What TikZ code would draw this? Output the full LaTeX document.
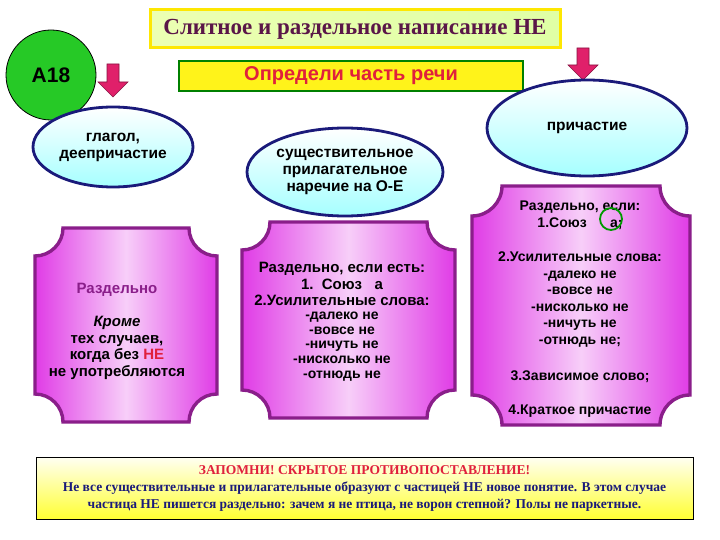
\documentclass[tikz,border=0pt]{standalone}
\usepackage{fontspec}
\setmainfont{Liberation Serif}
\newfontfamily\sansb{Liberation Sans}
\usetikzlibrary{shapes.geometric}
\definecolor{navyb}{HTML}{1A1A7A}
\definecolor{purp}{HTML}{8A1E8A}
\definecolor{pinkc}{HTML}{E03CE6}
\definecolor{arrowc}{HTML}{E0206A}
\definecolor{titletext}{HTML}{5A1648}
\definecolor{redt}{HTML}{E0203C}
\tikzset{
  oval/.style={ellipse,draw=navyb,line width=2.8pt,top color=white,bottom color=cyan!35,font=\sansb\bfseries\fontsize{15.5}{17}\selectfont,align=center,inner sep=0pt},
  cardfill/.style={draw=purp,line width=3.4pt,left color=pinkc,right color=pinkc,middle color=white!75!pinkc},
  ctext/.style={font=\sansb\bfseries\fontsize{15}{16}\selectfont,align=center,inner sep=0pt},
  bar/.style={fill=arrowc,draw=arrowc!60!black,line width=0.6pt}
}
\newcommand{\cardshape}[5]{% x1 y1 x2 y2 r
  \path[cardfill] (#1+#5,#2) -- (#3-#5,#2)
   .. controls (#3-#5,#2+0.55*#5) and (#3-0.55*#5,#2+#5) .. (#3,#2+#5)
   -- (#3,#4-#5)
   .. controls (#3-0.55*#5,#4-#5) and (#3-#5,#4-0.55*#5) .. (#3-#5,#4)
   -- (#1+#5,#4)
   .. controls (#1+#5,#4-0.55*#5) and (#1+0.55*#5,#4-#5) .. (#1,#4-#5)
   -- (#1,#2+#5)
   .. controls (#1+0.55*#5,#2+#5) and (#1+#5,#2+0.55*#5) .. (#1+#5,#2) -- cycle;}
\newcommand{\pinkarrow}[3]{% x ytop ybottom
  \path[bar] (#1-6,#2) -- (#1+6,#2) -- (#1+6,#3-15) -- (#1+15,#3-15) -- (#1,#3) -- (#1-15,#3-15) -- (#1-6,#3-15) -- cycle;}
\begin{document}
\begin{tikzpicture}[x=1pt,y=-1pt]
\useasboundingbox (0,0) rectangle (720,540);
\fill[white] (0,0) rectangle (720,540);
% title
\node[draw=yellow!90!orange,line width=3pt,left color=green!25!yellow!30,right color=green!35!yellow!35,minimum width=410pt,minimum height=38pt,font=\bfseries\fontsize{23}{25}\selectfont,text=titletext] (title) at (355,29) {Слитное и раздельное написание НЕ};
% A18
\node[circle,draw=black,line width=0.8pt,fill=green!75!black!85,minimum size=90pt,font=\sansb\bfseries\fontsize{21}{23}\selectfont] (a18) at (51,75) {А18};
% determine
\node[draw=green!50!black,line width=2pt,fill=yellow!90,minimum width=344pt,minimum height=30pt,font=\sansb\bfseries\fontsize{20}{22}\selectfont,text=redt] (det) at (351,76) {Определи часть речи};
% arrows
\pinkarrow{113}{64}{97}
\pinkarrow{340}{136}{174}
\pinkarrow{583}{48}{80}
% ovals
\node[oval,minimum width=160pt,minimum height=80pt] (verb) at (113,147) {глагол,\\деепричастие};
\node[oval,minimum width=196pt,minimum height=88pt] (noun) at (345,172) {существительное\\прилагательное\\наречие на О-Е};
\node[oval,minimum width=200pt,minimum height=96pt] (part) at (587,128) {причастие};
% cards
\cardshape{35}{228}{217}{422}{28}
\cardshape{242}{222}{455}{418}{28}
\cardshape{472}{186}{690}{425}{30}
% left card text
\node[ctext,text=purp] (l1) at (117,290) {Раздельно};
\node[ctext,font=\sansb\bfseries\itshape\fontsize{15}{16}\selectfont] (l2) at (117,323) {Кроме};
\node[ctext,anchor=north,font=\sansb\bfseries\fontsize{15}{16.5}\selectfont] (l3) at (117,335) {тех случаев,\\когда без \textcolor{redt}{НЕ}\\не употребляются};
% middle card text
\node[ctext,anchor=north,font=\sansb\bfseries\fontsize{15}{16.5}\selectfont] (m1) at (342,262) {Раздельно, если есть:\\1.\ \ Союз\ \ \ а\\2.Усилительные слова:};
\node[ctext,anchor=north,font=\sansb\bfseries\fontsize{14}{14.6}\selectfont] (m2) at (342,312) {-далеко не\\-вовсе не\\-ничуть не\\-нисколько не\\-отнюдь не};
% right card text
\node[ctext,anchor=north,font=\sansb\bfseries\fontsize{14}{16.5}\selectfont] (r1) at (580,201) {Раздельно, если:\\1.Союз\ \ \ \ \ \ а;};
\draw[green!60!black,line width=1.8pt] (611,219) circle[radius=11];
\node[ctext,anchor=north,font=\sansb\bfseries\fontsize{14}{16.5}\selectfont] (r2) at (580,252) {2.Усилительные слова:\\-далеко не\\-вовсе не\\-нисколько не\\-ничуть не\\-отнюдь не;};
\node[ctext,font=\sansb\bfseries\fontsize{14}{16}\selectfont] (r3) at (580,377) {3.Зависимое слово;};
\node[ctext,font=\sansb\bfseries\fontsize{14}{16}\selectfont] (r4) at (580,411) {4.Краткое причастие};
% bottom box
\node[draw=black,line width=1pt,top color=white!95!yellow,bottom color=yellow!80,minimum width=657pt,minimum height=62pt,align=center,font=\bfseries\fontsize{13.5}{17}\selectfont] (note) at (364.5,488)
 {\textcolor{redt}{ЗАПОМНИ! СКРЫТОЕ ПРОТИВОПОСТАВЛЕНИЕ!}\\
  \textcolor{navyb}{Не все существительные и прилагательные образуют с частицей НЕ новое понятие. В этом случае}\\
  \textcolor{navyb}{частица НЕ пишется раздельно: зачем я не птица, не ворон степной? Полы не паркетные.}};
\end{tikzpicture}
\end{document}
